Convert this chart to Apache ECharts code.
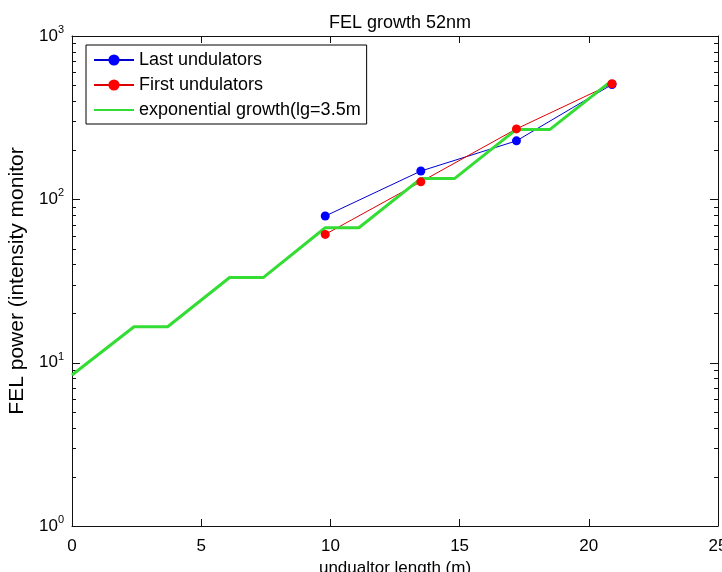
<!DOCTYPE html>
<html>
<head>
<meta charset="utf-8">
<script src="https://cdn.jsdelivr.net/npm/echarts@6/dist/echarts.min.js"></script>
<style>
html, body { margin: 0; padding: 0; background: #fff; }
#chart { width: 722px; height: 572px; }
</style>
</head>
<body>
<div id="chart"></div>
<script>
// values
const lastX = [9.8, 13.5, 17.2, 20.9];
const lastY = [79, 149, 228, 505];
const firstX = [9.8, 13.5, 17.2, 20.9];
const firstY = [61, 128, 270, 510];
const expX = [0, 2.4, 3.7, 6.1, 7.4, 9.8, 11.1, 13.5, 14.8, 17.2, 18.5, 20.9];
const expY = [8.4, 16.6, 16.6, 33.2, 33.2, 67, 67, 134, 134, 268, 268, 535];

const xTicks = [0, 5, 10, 15, 20, 25];
const yMajor = [1, 10, 100, 1000];
const yMinor = [2, 3, 4, 5, 6, 7, 8, 9, 20, 30, 40, 50, 60, 70, 80, 90, 200, 300, 400, 500, 600, 700, 800, 900];

const font = 'Liberation Sans';
const ink = '#111';

const chart = echarts.init(document.getElementById('chart'));

const pairs = (xs, ys) => xs.map((x, i) => [x, ys[i]]);

// matlab style log ticks on both y sides, placed through the y scale
const yTickData = yMajor.map(v => [v, 8]).concat(yMinor.map(v => [v, 4]));

function renderTick(params, api) {
    const v = api.value(0);
    const len = api.value(1);
    const a = api.coord([0, v]);
    const b = api.coord([25, v]);
    const y = Math.round(a[1]) + 0.5;
    return {
        type: 'group',
        children: [
            { type: 'line', shape: { x1: a[0], y1: y, x2: a[0] + len, y2: y }, style: { stroke: ink, lineWidth: 1 } },
            { type: 'line', shape: { x1: b[0] - len, y1: y, x2: b[0], y2: y }, style: { stroke: ink, lineWidth: 1 } }
        ]
    };
}

chart.setOption({
    backgroundColor: '#fff',
    animation: false,
    title: {
        text: 'FEL growth 52nm', left: 395, top: 9, textAlign: 'center',
        textStyle: { fontFamily: font, fontSize: 18, fontWeight: 'normal', color: '#000' }
    },
    grid: { left: 72, right: 4, top: 36, bottom: 46, containLabel: false, outerBoundsMode: 'none' },
    legend: {
        orient: 'vertical', left: 86, top: 45,
        itemWidth: 40, itemHeight: 14, itemGap: 7,
        padding: [6, 6, 5, 7],
        borderColor: '#000', borderWidth: 1, backgroundColor: '#fff',
        textStyle: { fontFamily: font, fontSize: 18, color: '#000' },
        data: [
            'Last undulators',
            'First undulators',
            { name: 'exponential growth(lg=3.5m', itemStyle: { opacity: 0 } }
        ]
    },
    xAxis: [{
        type: 'value', position: 'bottom', min: 0, max: 25, interval: 5,
        name: 'undualtor length (m)', nameLocation: 'middle', nameGap: 29,
        nameTextStyle: { fontFamily: font, fontSize: 17, color: '#000' },
        axisLine: { onZero: false, lineStyle: { color: ink } },
        axisTick: { inside: true, length: 7, customValues: xTicks, lineStyle: { color: ink } },
        splitLine: { show: false },
        axisLabel: { customValues: xTicks, margin: 12, fontFamily: font, fontSize: 17, color: '#000' }
    }, {
        type: 'value', position: 'top', min: 0, max: 25, interval: 5,
        axisLine: { onZero: false, lineStyle: { color: ink } },
        axisTick: { inside: true, length: 7, customValues: xTicks, lineStyle: { color: ink } },
        splitLine: { show: false },
        axisLabel: { show: false }
    }],
    yAxis: [{
        type: 'log', position: 'left', min: 1, max: 1000,
        name: 'FEL power (intensity monitor', nameLocation: 'middle', nameGap: 31,
        nameTextStyle: { fontFamily: font, fontSize: 21, color: '#000' },
        axisLine: { onZero: false, lineStyle: { color: ink } },
        axisTick: { show: false },
        splitLine: { show: false },
        axisLabel: {
            customValues: yMajor, margin: 8,
            formatter: v => '{b|10}{s|' + Math.round(Math.log10(v)) + '}',
            rich: {
                b: { fontFamily: font, fontSize: 17, color: '#000' },
                s: { fontFamily: font, fontSize: 11, color: '#000', padding: [0, 0, 12, 0] }
            }
        }
    }, {
        type: 'log', position: 'right', min: 1, max: 1000,
        axisLine: { onZero: false, lineStyle: { color: ink } },
        axisTick: { show: false },
        splitLine: { show: false },
        axisLabel: { show: false }
    }],
    series: [{
        name: 'yTicks', type: 'custom',
        data: yTickData,
        encode: { y: 0, x: 1 },
        renderItem: renderTick,
        silent: true, clip: false, z: 1
    }, {
        name: 'Last undulators', type: 'line',
        data: pairs(lastX, lastY),
        symbol: 'circle', symbolSize: 9,
        itemStyle: { color: '#0000ff' },
        lineStyle: { color: '#0000cc', width: 1 }
    }, {
        name: 'First undulators', type: 'line',
        data: pairs(firstX, firstY),
        symbol: 'circle', symbolSize: 9,
        itemStyle: { color: '#ff0000' },
        lineStyle: { color: '#dd0000', width: 1 }
    }, {
        name: 'exponential growth(lg=3.5m', type: 'line',
        data: pairs(expX, expY),
        symbol: 'none',
        itemStyle: { color: '#33dd33' },
        lineStyle: { color: '#33dd33', width: 3 }
    }]
});
</script>
</body>
</html>
